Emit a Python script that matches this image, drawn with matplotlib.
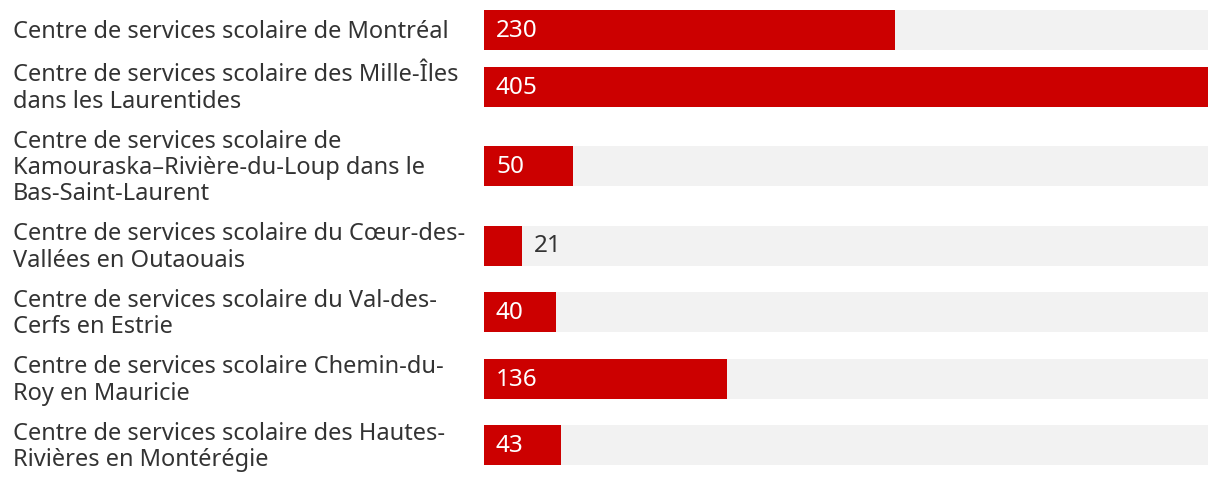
import matplotlib
matplotlib.use("Agg")
import matplotlib.pyplot as plt

labels = [
    "Centre de services scolaire de Montréal",
    "Centre de services scolaire des Mille-Îles\ndans les Laurentides",
    "Centre de services scolaire de\nKamouraska\u2013Rivière-du-Loup dans le\nBas-Saint-Laurent",
    "Centre de services scolaire du Cœur-des-\nVallées en Outaouais",
    "Centre de services scolaire du Val-des-\nCerfs en Estrie",
    "Centre de services scolaire Chemin-du-\nRoy en Mauricie",
    "Centre de services scolaire des Hautes-\nRivières en Montérégie",
]
values = [230, 405, 50, 21, 40, 136, 43]

red = "#cc0000"
track = "#f2f2f2"
txt = "#333333"

plt.rcParams['font.family'] = ['Noto Sans', 'DejaVu Sans']

fig = plt.figure(figsize=(12.2, 4.84), dpi=100)
ax = fig.add_axes([484 / 1220, 0, 724 / 1220, 1])

# row centres (in pixels) from the number of label lines
line_h = 26
gap = 14.5
centres = []
y = 30
prev_h = None
for lab in labels:
    h = max(lab.count("\n") + 1, 1) * line_h
    h = max(h, 32)
    if prev_h is not None:
        y = y + prev_h / 2 + h / 2 + gap
    centres.append(y)
    prev_h = h

vmax = max(values)
ax.barh(centres, [vmax] * len(values), height=40, color=track, left=0)
ax.barh(centres, values, height=40, color=red, left=0)

px = vmax / 724  # data units per pixel
for c, v, lab in zip(centres, values, labels):
    fig.text(13 / 1220, 1 - (c + 2) / 484, lab, ha='left', va='center',
             fontsize=17, color=txt, linespacing=1.13)
    if v / px > 60:
        ax.text(12 * px, c + 1, str(v), ha='left', va='center',
                fontsize=17.5, color='white')
    else:
        ax.text(v + 12 * px, c + 1, str(v), ha='left', va='center',
                fontsize=17.5, color=txt)

ax.set_xlim(0, vmax)
ax.set_ylim(484, 0)
ax.axis('off')

fig.savefig("out.png", dpi=100)
